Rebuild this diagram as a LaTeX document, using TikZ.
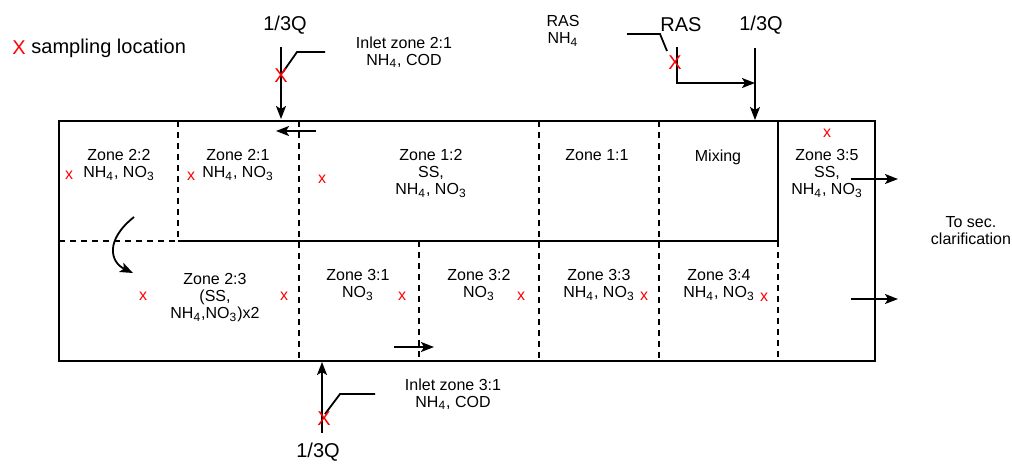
\documentclass[tikz,border=0pt]{standalone}
\usepackage{fontspec}
\setmainfont{Liberation Sans}
\usetikzlibrary{positioning, arrows.meta}

\newcommand{\NHf}{NH\textsubscript{4}}
\newcommand{\NOt}{NO\textsubscript{3}}

\begin{document}
\begin{tikzpicture}[x=0.5pt, y=-0.5pt,
    font=\fontsize{8}{8.5}\selectfont,
    zone/.style={align=center, inner sep=0pt, anchor=north},
    big/.style={inner sep=0pt, font=\fontsize{10}{12}\selectfont},
    smp/.style={inner sep=0pt, text=red},
    bigsmp/.style={inner sep=0pt, text=red, font=\fontsize{10}{12}\selectfont},
    wall/.style={line width=1.1pt},
    part/.style={line width=1pt, dash pattern=on 3pt off 2.5pt},
    pipe/.style={line width=0.9pt},
    flow/.style={pipe, -{Stealth[length=6.5pt, width=5pt, inset=1.5pt]}}]
  \useasboundingbox (0,0) rectangle (1012,463);

  % basin walls and zone borders
  \draw[wall] (59,121) rectangle (875,361);
  \draw[wall] (178,241) -- (778,241) -- (778,121);
  \draw[part] (59,241) -- (178,241);
  \draw[part] (178,121) -- (178,241);
  \foreach \x in {299,539,659}
    \draw[part] (\x,121) -- (\x,361);
  \draw[part] (419,241) -- (419,361);
  \draw[part] (778,241) -- (778,361);

  % zones
  \node[zone] (z22) at (119,149) {Zone 2:2\\\NHf, \NOt};
  \node[zone] (z21) at (238,149) {Zone 2:1\\\NHf, \NOt};
  \node[zone] (z12) at (431,149) {Zone 1:2\\SS,\\\NHf, \NOt};
  \node[zone] (z11) at (597,149) {Zone 1:1};
  \node[zone] (mix) at (718,149) {Mixing};
  \node[zone] (z35) at (827,149) {Zone 3:5\\SS,\\\NHf, \NOt};
  \node[zone] (z23) at (215,273) {Zone 2:3\\(SS,\\\NHf,\NOt)x2};
  \node[zone] (z31) at (358,269) {Zone 3:1\\\NOt};
  \node[zone] (z32) at (479,269) {Zone 3:2\\\NOt};
  \node[zone] (z33) at (599,269) {Zone 3:3\\\NHf, \NOt};
  \node[zone] (z34) at (719,269) {Zone 3:4\\\NHf, \NOt};

  % legend
  \node[bigsmp] (key) at (19,48) {X};
  \node[big, anchor=west] (keytxt) at (31,48) {sampling location};

  % inlet zone 2:1
  \coordinate (qa) at (281,47);
  \coordinate (qaend) at (281,119);
  \coordinate (ka) at (283,72);
  \coordinate (kb) at (297,52);
  \coordinate (kc) at (325,52);
  \node[big] (qatxt) at (285,25) {1/3Q};
  \node[zone] (inla) at (404,36) {Inlet zone 2:1\\\NHf, COD};
  \draw[flow] (qa) -- (qaend);
  \draw[pipe] (ka) -- (kb) -- (kc);
  \node[bigsmp] (xa) at (281,76) {X};

  % RAS
  \coordinate (ra) at (627,34);
  \coordinate (rb) at (660,34);
  \coordinate (rc) at (667,51);
  \coordinate (rd) at (677,47);
  \coordinate (re) at (677,83);
  \coordinate (rf) at (755,83);
  \coordinate (qb) at (755,48);
  \coordinate (qbend) at (755,120);
  \node[zone] (rasinfo) at (563,15) {RAS\\\NHf};
  \node[big] (rastxt) at (681,25) {RAS};
  \node[big] (qbtxt) at (761,25) {1/3Q};
  \draw[pipe] (ra) -- (rb) -- (rc);
  \draw[flow] (rd) -- (re) -- (rf);
  \draw[flow] (qb) -- (qbend);
  \node[bigsmp] (xr) at (675,63) {X};

  % inlet zone 3:1
  \coordinate (qc) at (322,433);
  \coordinate (qcend) at (322,362);
  \coordinate (la) at (325,414);
  \coordinate (lb) at (340,394);
  \coordinate (lc) at (375,394);
  \node[big] (qctxt) at (318,452) {1/3Q};
  \node[zone] (inlc) at (453,378) {Inlet zone 3:1\\\NHf, COD};
  \draw[flow] (qc) -- (qcend);
  \draw[pipe] (la) -- (lb) -- (lc);
  \node[bigsmp] (xc) at (324,419) {X};

  % flow inside the basin
  \coordinate (fa) at (316,131);
  \coordinate (fb) at (276,131);
  \coordinate (fc) at (394,347);
  \coordinate (fd) at (434,347);
  \coordinate (cva) at (134,217);
  \coordinate (cvb) at (133,273);
  \draw[flow] (fa) -- (fb);
  \draw[flow] (fc) -- (fd);
  \draw[flow] (cva) .. controls (105,240) and (110,262) .. (cvb);

  % outlet
  \coordinate (oa) at (851,179);
  \coordinate (ob) at (898,179);
  \coordinate (oc) at (851,299);
  \coordinate (od) at (898,299);
  \draw[flow] (oa) -- (ob);
  \draw[flow] (oc) -- (od);
  \node[zone] (sec) at (971,216) {To sec.\\clarification};

  % sampling points
  \foreach \p/\q [count=\i] in {69/175, 191/176, 322/179, 827/133, 143/296,
      284/296, 402/296, 521/296, 644/296, 764/297}
    \node[smp] (s\i) at (\p,\q) {x};
\end{tikzpicture}
\end{document}
